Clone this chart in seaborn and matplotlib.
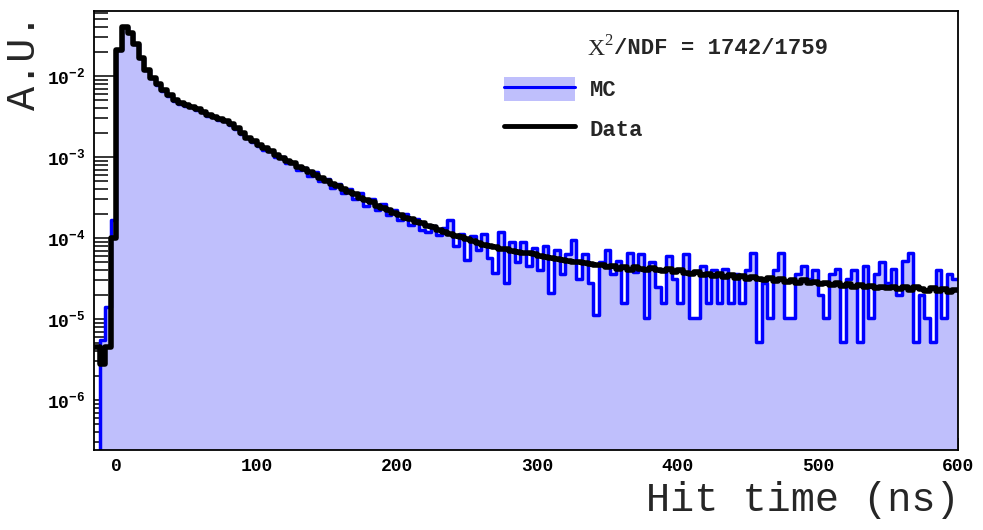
import numpy as np
import pandas as pd
import seaborn as sns
import matplotlib.pyplot as plt
from matplotlib.patches import Patch
from matplotlib.lines import Line2D
from matplotlib.ticker import LogLocator, MultipleLocator, LogFormatterMathtext

# Histogramm-Binning (4 ns Bins von -16 bis 600 ns)
bin_width = 4
bin_start = -16
n_bins = 154

# Data: log10(A.U.) pro Bin
data_log = [
    -5.35, -5.55, -5.35, -4.00, -1.68, -1.40, -1.47, -1.60, -1.78, -1.92,
    -2.02, -2.10, -2.17, -2.24, -2.30, -2.33, -2.36, -2.38, -2.41, -2.45,
    -2.48, -2.51, -2.53, -2.55, -2.59, -2.64, -2.70, -2.76, -2.80, -2.85,
    -2.89, -2.93, -2.97, -3.01, -3.05, -3.08, -3.12, -3.15, -3.19, -3.22,
    -3.26, -3.29, -3.33, -3.36, -3.40, -3.43, -3.46, -3.50, -3.53, -3.56,
    -3.60, -3.63, -3.66, -3.69, -3.72, -3.75, -3.77, -3.80, -3.82, -3.85,
    -3.87, -3.90, -3.92, -3.95, -3.97, -3.99, -4.01, -4.04, -4.06, -4.08,
    -4.10, -4.11, -4.13, -4.14, -4.16, -4.17, -4.18, -4.19, -4.20, -4.22,
    -4.23, -4.25, -4.26, -4.27, -4.28, -4.29, -4.30, -4.31, -4.32, -4.33,
    -4.33, -4.36, -4.35, -4.38, -4.36, -4.39, -4.36, -4.38, -4.40, -4.37,
    -4.39, -4.41, -4.38, -4.42, -4.40, -4.43, -4.45, -4.42, -4.46, -4.44,
    -4.47, -4.45, -4.48, -4.46, -4.49, -4.47, -4.50, -4.48, -4.50, -4.52,
    -4.49, -4.53, -4.51, -4.54, -4.52, -4.55, -4.52, -4.56, -4.54, -4.57,
    -4.55, -4.58, -4.56, -4.59, -4.57, -4.60, -4.58, -4.61, -4.59, -4.62,
    -4.60, -4.62, -4.60, -4.63, -4.61, -4.64, -4.61, -4.63, -4.65, -4.62,
    -4.65, -4.63, -4.66, -4.64,
]

# MC: log10(A.U.) pro Bin (-9 = leerer Bin, unterhalb der Achse)
mc_log = [
    -9.00, -5.26, -4.85, -3.78, -1.68, -1.40, -1.47, -1.60, -1.78, -1.92,
    -2.02, -2.11, -2.18, -2.25, -2.31, -2.34, -2.37, -2.38, -2.42, -2.45,
    -2.49, -2.51, -2.54, -2.56, -2.60, -2.65, -2.71, -2.77, -2.81, -2.86,
    -2.91, -2.92, -3.00, -3.00, -3.08, -3.07, -3.16, -3.13, -3.24, -3.19,
    -3.30, -3.27, -3.38, -3.33, -3.45, -3.40, -3.52, -3.45, -3.60, -3.52,
    -3.66, -3.58, -3.72, -3.65, -3.78, -3.70, -3.84, -3.76, -3.90, -3.93,
    -3.85, -3.96, -3.88, -3.78, -4.10, -3.95, -4.27, -3.98, -4.15, -3.95,
    -4.25, -4.43, -3.92, -4.55, -4.05, -4.30, -4.05, -4.35, -4.12, -4.40,
    -4.10, -4.68, -4.15, -4.45, -4.20, -4.02, -4.50, -4.20, -4.55, -4.95,
    -4.30, -4.15, -4.45, -4.28, -4.80, -4.18, -4.42, -4.20, -4.99, -4.30,
    -4.60, -4.80, -4.22, -4.50, -4.80, -4.20, -4.99, -4.99, -4.35, -4.80,
    -4.40, -4.80, -4.38, -4.80, -4.45, -4.80, -4.40, -4.18, -5.28, -4.55,
    -4.99, -4.40, -4.18, -4.99, -4.99, -4.45, -4.35, -4.50, -4.40, -4.70,
    -4.99, -4.45, -4.38, -5.28, -4.50, -4.40, -5.28, -4.35, -4.99, -4.45,
    -4.30, -4.55, -4.38, -4.70, -4.28, -4.18, -5.28, -4.70, -4.99, -5.28,
    -4.40, -4.99, -4.45, -4.50,
]

chi2_text = "/NDF = 1742/1759"
x_label = "Hit time (ns)"
y_label = "A.U."

centers = bin_start + bin_width * (np.arange(n_bins) + 0.5)
bin_range = (bin_start, bin_start + bin_width * n_bins)
df = pd.DataFrame({
    "t": np.concatenate([centers, centers]),
    "w": np.concatenate([10.0 ** np.array(mc_log), 10.0 ** np.array(data_log)]),
    "quelle": ["MC"] * n_bins + ["Data"] * n_bins,
})
df_mc = df[df["quelle"] == "MC"]
df_data = df[df["quelle"] == "Data"]

sns.set_theme(style="white")
mono = "Liberation Mono"
plt.rcParams["font.family"] = [mono, "DejaVu Sans"]
plt.rcParams["mathtext.fontset"] = "custom"
plt.rcParams["mathtext.rm"] = "Liberation Mono:bold"

fill_col = "#bfbffc"
line_col = "#0000ff"

fig = plt.figure(figsize=(9.83, 5.30), dpi=100)
ax = fig.add_axes([94 / 983, 1 - 450 / 530, (958 - 94) / 983, (450 - 11) / 530])
ax.set_yscale("log")

# MC gefuellt + Umriss, Data als dicke Linie
hist_kw = dict(x="t", weights="w", binwidth=bin_width, binrange=bin_range,
               element="step", ax=ax)
sns.histplot(data=df_mc, fill=True, color=fill_col, alpha=1, linewidth=0, **hist_kw)
sns.histplot(data=df_mc, fill=False, color=line_col, linewidth=2.5, **hist_kw)
sns.histplot(data=df_data, fill=False, color="black", linewidth=4.0, **hist_kw)

ax.set_xlim(-16, 600)
ax.set_ylim(2.42e-7, 6.34e-2)

# Achsen im ROOT-Stil
for sp in ax.spines.values():
    sp.set_color("black")
    sp.set_linewidth(1.3)
    sp.set_zorder(5)
ax.xaxis.set_major_locator(MultipleLocator(100))
ax.xaxis.set_minor_locator(MultipleLocator(20))
ax.yaxis.set_major_locator(LogLocator(base=10, numticks=20))
ax.yaxis.set_minor_locator(LogLocator(base=10, subs=np.arange(2, 10), numticks=20))
ax.yaxis.set_major_formatter(LogFormatterMathtext())
ax.tick_params(axis="both", which="both", direction="in", colors="black",
               left=True, bottom=True, top=False, right=False)
ax.tick_params(axis="y", which="major", length=17, width=1.1, pad=6)
ax.tick_params(axis="y", which="minor", length=10, width=1.1)
ax.tick_params(axis="x", which="major", length=8.5, width=1.1, pad=6)
ax.tick_params(axis="x", which="minor", length=5, width=1.1)
for lab in ax.get_xticklabels() + ax.get_yticklabels():
    lab.set_fontfamily(mono)
    lab.set_fontweight("bold")
    lab.set_fontsize(13)
ax.set_xlabel("")
ax.set_ylabel("")

fig.text(960 / 983, 1 - 500 / 530, x_label, ha="right", va="center",
         fontsize=29, family=mono)
fig.text(24 / 983, 1 - 62 / 530, y_label, ha="center", va="center",
         rotation=90, fontsize=29, family=mono)

# Chi2-Text und Legende
fig.text(587 / 983, 1 - 49 / 530, r"X$^{\mathregular{2}}$", ha="left", va="center",
         fontsize=17, family="Liberation Serif")
fig.text(614 / 983, 1 - 49 / 530, chi2_text, ha="left", va="center",
         fontsize=16, family=mono, weight="bold")

handles = [(Patch(facecolor=fill_col, edgecolor="none"), Line2D([], [], color=line_col, lw=2.2)),
           Line2D([], [], color="black", lw=3.5)]
fig.legend(handles, ["MC", "Data"], loc="upper left",
           bbox_to_anchor=(504 / 983, 1 - 77 / 530), frameon=False,
           borderpad=0, borderaxespad=0, handlelength=3.2, handleheight=1.25,
           handletextpad=0.65, labelspacing=0.7,
           prop={"family": mono, "weight": "bold", "size": 16})

fig.savefig("out.png", dpi=100)
